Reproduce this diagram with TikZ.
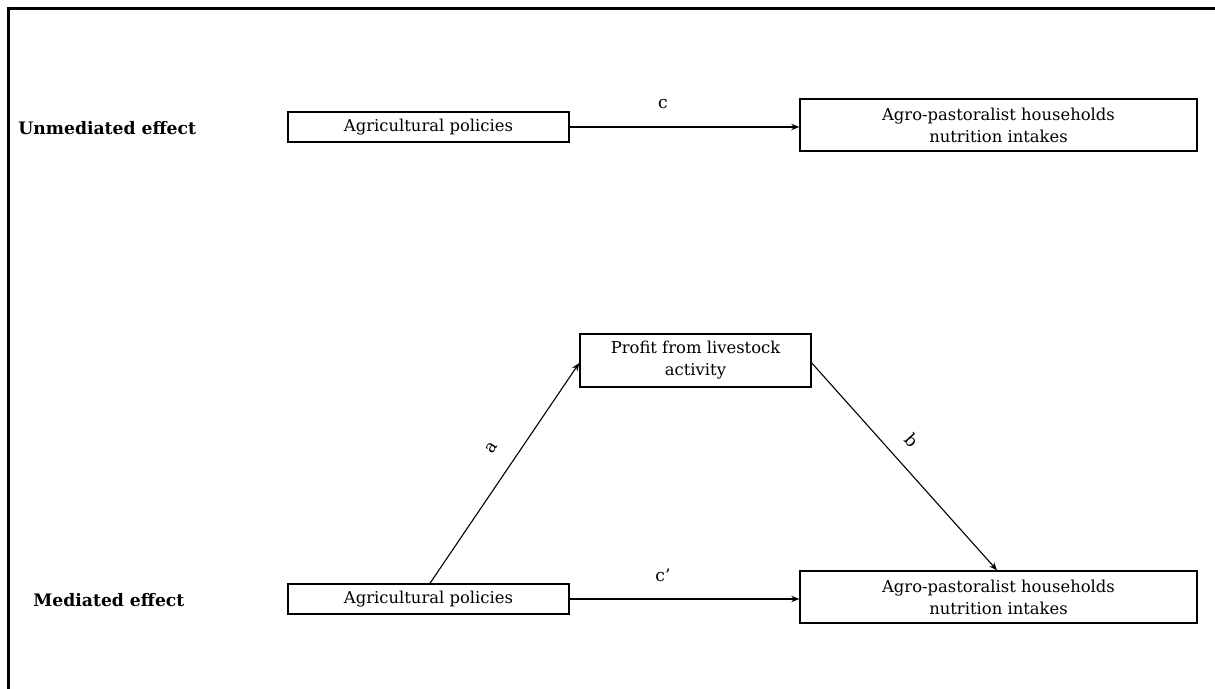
\documentclass[tikz,border=0pt]{standalone}
\usepackage{fontspec}
\setmainfont{DejaVu Serif}
\usetikzlibrary{arrows.meta}
\begin{document}
\begin{tikzpicture}[x=0.5pt,y=-0.5pt,
  box/.style={draw, line width=0.75pt, inner sep=0pt, align=center,
    font=\fontsize{8.2}{11}\selectfont},
  rowlabel/.style={anchor=west, inner sep=0pt, font=\fontsize{8.6}{10}\selectfont\bfseries},
  conn/.style={line width=0.55pt, -{Stealth[length=4pt,width=3.2pt]}},
  lab/.style={inner sep=0pt, font=\fontsize{8.6}{10}\selectfont}]
\useasboundingbox (0,0) rectangle (1215,689);
\draw[line width=1.5pt] (8,689) -- (8,9) -- (1215,9);

\node[rowlabel] (ul) at (18,128) {Unmediated effect};
\node[rowlabel] (ml) at (33,600) {Mediated effect};

\node[box, minimum width=140.5pt, minimum height=15pt] (ap1) at (428.5,127) {Agricultural policies};
\node[box, minimum width=198.5pt, minimum height=26pt] (nut1) at (998.5,125) {Agro-pastoralist households\\nutrition intakes};
\node[box, minimum width=115.5pt, minimum height=26.5pt] (prof) at (695.5,360.5) {Profit from livestock\\activity};
\node[box, minimum width=140.5pt, minimum height=15pt] (ap2) at (428.5,599) {Agricultural policies};
\node[box, minimum width=198.5pt, minimum height=26pt] (nut2) at (998.5,597) {Agro-pastoralist households\\nutrition intakes};

\draw[conn] (ap1.east) -- (nut1.west |- ap1.east);
\node[lab] (lc) at (663,104) {c};

\coordinate (astart) at (430,584);
\coordinate (aend) at (580,363);
\draw[conn] (ap2.north -| astart) -- (prof.west |- aend);
\node[lab, rotate=56] (la) at (492,448) {a};

\coordinate (bstart) at (811,363);
\coordinate (bend) at (997,572);
\draw[conn] (prof.east |- bstart) -- (nut2.north -| bend);
\node[lab, rotate=-48] (lb) at (912,440) {b};

\draw[conn] (ap2.east) -- (nut2.west |- ap2.east);
\node[lab] (lcp) at (663,575) {c’};
\end{tikzpicture}
\end{document}
